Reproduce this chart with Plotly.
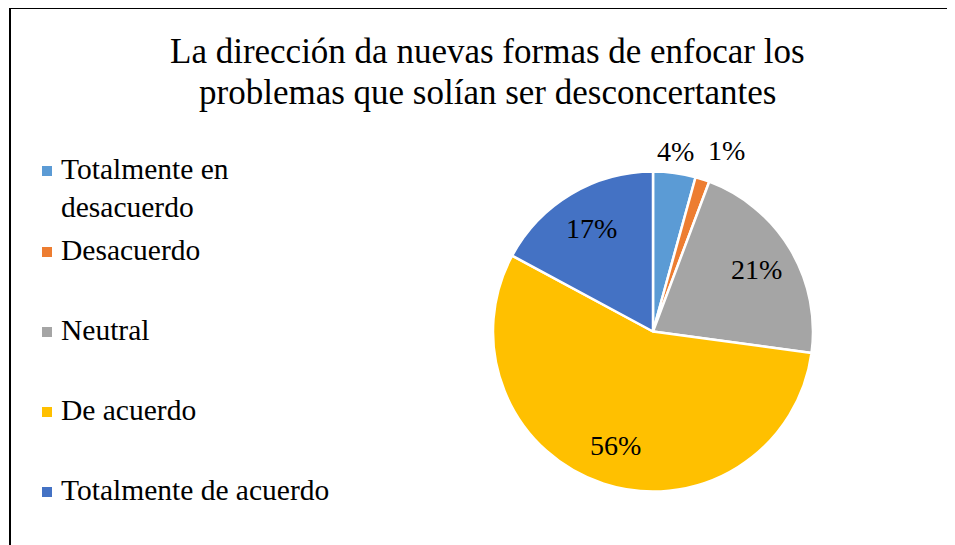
import math
import plotly.graph_objects as go

categories = ["Totalmente en desacuerdo", "Desacuerdo", "Neutral", "De acuerdo", "Totalmente de acuerdo"]
legend_labels = ["Totalmente en<br>desacuerdo", "Desacuerdo", "Neutral", "De acuerdo", "Totalmente de acuerdo"]
counts = [3, 1, 15, 39, 12]
colors = ["#5B9BD5", "#ED7D31", "#A5A5A5", "#FFC000", "#4472C4"]
title_lines = ["La dirección da nuevas formas de enfocar los", "problemas que solían ser desconcertantes"]

W, H = 955, 545
OFF = 8  # page body margin
FONT = "Liberation Serif, Times New Roman, serif"

def px(x):
    return (x - OFF) / W

def py(y):
    return 1 - (y - OFF) / H

cx, cy, r = 653, 331.5, 160

fig = go.Figure(go.Pie(
    labels=categories,
    values=counts,
    sort=False,
    direction="clockwise",
    rotation=0,
    marker=dict(colors=colors, line=dict(color="white", width=2.5)),
    textinfo="none",
    domain=dict(x=[px(cx - r), px(cx + r)], y=[py(cy + r), py(cy - r)]),
    showlegend=False,
    hoverinfo="label+percent",
))

annotations = []
for line, ty in zip(title_lines, [51, 92]):
    annotations.append(dict(
        text=line, x=px(487), y=py(ty), xref="paper", yref="paper",
        xanchor="center", yanchor="middle", showarrow=False,
        font=dict(family=FONT, size=35, color="black")))

shapes = [
    dict(type="line", xref="paper", yref="paper", x0=px(10), x1=px(970), y0=py(8), y1=py(8),
         line=dict(color="black", width=2)),
    dict(type="line", xref="paper", yref="paper", x0=px(10), x1=px(10), y0=py(8), y1=py(560),
         line=dict(color="black", width=2)),
]

# data labels, derived from the slice fractions
total = sum(counts)
cum = 0
for c in counts:
    frac = c / total
    mid = (cum + frac / 2) * 2 * math.pi
    cum += frac
    s, co = math.sin(mid), math.cos(mid)
    label = f"{round(frac * 100)}%"
    if frac < 0.08:
        centered = s < 0.2
        rr = r + (4 if centered else 12)
        ax, ay = cx + rr * s, cy - rr * co
        annotations.append(dict(text=label, x=px(ax), y=py(ay), xref="paper", yref="paper",
                                xanchor="center" if centered else "left", yanchor="bottom",
                                showarrow=False, font=dict(family=FONT, size=28, color="black")))
    else:
        rr = 0.75 * r
        ax, ay = cx + rr * s, cy - rr * co
        annotations.append(dict(text=label, x=px(ax), y=py(ay), xref="paper", yref="paper",
                                xanchor="center", yanchor="middle",
                                showarrow=False, font=dict(family=FONT, size=28, color="black")))

legend_y = [171, 252, 332, 412, 492]
for lab, col, ly in zip(legend_labels, colors, legend_y):
    shapes.append(dict(type="rect", xref="paper", yref="paper",
                       x0=px(42), x1=px(52), y0=py(ly + 5), y1=py(ly - 5),
                       fillcolor=col, line=dict(width=0)))
    annotations.append(dict(text=lab, x=px(59), y=py(ly - 20), xref="paper", yref="paper",
                            xanchor="left", yanchor="top", align="left", showarrow=False,
                            font=dict(family=FONT, size=29.5, color="black")))

fig.update_layout(
    width=W, height=H,
    margin=dict(l=0, r=0, t=0, b=0),
    paper_bgcolor="white",
    plot_bgcolor="white",
    annotations=annotations,
    shapes=shapes,
)

fig.write_html("out.html")
